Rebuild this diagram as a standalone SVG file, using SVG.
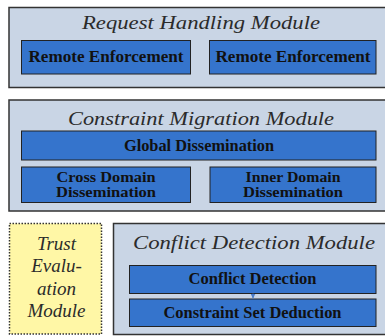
<svg xmlns="http://www.w3.org/2000/svg" width="385" height="336" viewBox="0 0 385 336">
  <style>
    .module { fill: #C9D5E5; stroke: #333333; stroke-width: 1.5; }
    .unit { fill: #3574CC; stroke: #222222; stroke-width: 1; }
    .trust { fill: #FFF7A6; stroke: #333333; stroke-width: 1.5; stroke-dasharray: 1.5 1.5; }
    text { font-family: 'Liberation Serif', 'Times New Roman', Tinos, 'Noto Serif', 'DejaVu Serif', Times, serif; }
    .title { font-style: italic; font-size: 19px; fill: #2b2b2b; text-anchor: middle; }
    .label { font-weight: bold; font-size: 16px; fill: #111111; text-anchor: middle; }
    .pair { font-size: 14.5px; }
    .link { stroke: #4A7CC8; stroke-width: 1; fill: none; }
  </style>
  <defs>
    <marker id="tip" markerWidth="6" markerHeight="5" refX="5" refY="2.5" orient="auto" markerUnits="userSpaceOnUse">
      <path d="M0,0 L5,2.5 L0,5 Z" fill="#4A7CC8"/>
    </marker>
  </defs>
  <rect width="385" height="336" fill="#FFFFFF"/>

  <g id="request-handling">
    <rect class="module" x="9" y="7.5" width="385" height="80"/>
    <text class="title" x="201" y="29" textLength="238" lengthAdjust="spacingAndGlyphs">Request Handling Module</text>
    <g id="remote-enforcement-1">
      <rect class="unit" x="21.5" y="40.5" width="169" height="33.5"/>
      <text class="label" x="106" y="62" textLength="155" lengthAdjust="spacingAndGlyphs">Remote  Enforcement</text>
    </g>
    <g id="remote-enforcement-2">
      <rect class="unit" x="209.5" y="40.5" width="166.5" height="33.5"/>
      <text class="label" x="293" y="62" textLength="155" lengthAdjust="spacingAndGlyphs">Remote  Enforcement</text>
    </g>
  </g>

  <g id="constraint-migration">
    <rect class="module" x="9" y="100" width="385" height="111"/>
    <text class="title" x="201" y="125" textLength="266" lengthAdjust="spacingAndGlyphs">Constraint Migration Module</text>
    <g id="global-dissemination">
      <rect class="unit" x="21.5" y="131" width="354.5" height="29"/>
      <text class="label" x="199" y="150.5" textLength="150" lengthAdjust="spacingAndGlyphs">Global Dissemination</text>
    </g>
    <g id="cross-domain">
      <rect class="unit" x="21.5" y="167" width="169" height="35.5"/>
      <text class="label pair" x="106" y="182" textLength="99" lengthAdjust="spacingAndGlyphs">Cross Domain</text>
      <text class="label pair" x="106" y="196.5" textLength="100" lengthAdjust="spacingAndGlyphs">Dissemination</text>
    </g>
    <g id="inner-domain">
      <rect class="unit" x="210" y="167" width="166" height="35.5"/>
      <text class="label pair" x="293" y="182" textLength="95" lengthAdjust="spacingAndGlyphs">Inner Domain</text>
      <text class="label pair" x="293" y="196.5" textLength="100" lengthAdjust="spacingAndGlyphs">Dissemination</text>
    </g>
  </g>

  <g id="trust-evaluation">
    <rect class="trust" x="9.5" y="223.5" width="92" height="110.5"/>
    <text class="title" x="56.5" y="249.5">Trust</text>
    <text class="title" x="56.5" y="271.5">Evalu-</text>
    <text class="title" x="56.5" y="295">ation</text>
    <text class="title" x="56.5" y="316.5">Module</text>
  </g>

  <g id="conflict-detection-module">
    <rect class="module" x="113.5" y="223.5" width="280" height="111"/>
    <text class="title" x="254" y="249" textLength="242" lengthAdjust="spacingAndGlyphs">Conflict Detection Module</text>
    <g id="conflict-detection">
      <rect class="unit" x="129.5" y="265.5" width="246.5" height="28"/>
      <text class="label" x="252.5" y="283.5" textLength="128" lengthAdjust="spacingAndGlyphs">Conflict Detection</text>
    </g>
    <g id="constraint-set-deduction">
      <rect class="unit" x="129.5" y="299" width="246.5" height="27.5"/>
      <text class="label" x="252.5" y="318" textLength="178" lengthAdjust="spacingAndGlyphs">Constraint Set Deduction</text>
    </g>
  </g>

  <g id="connectors">
    <path class="link" d="M253,293.5 L253,298.5" marker-end="url(#tip)"/>
  </g>
</svg>
